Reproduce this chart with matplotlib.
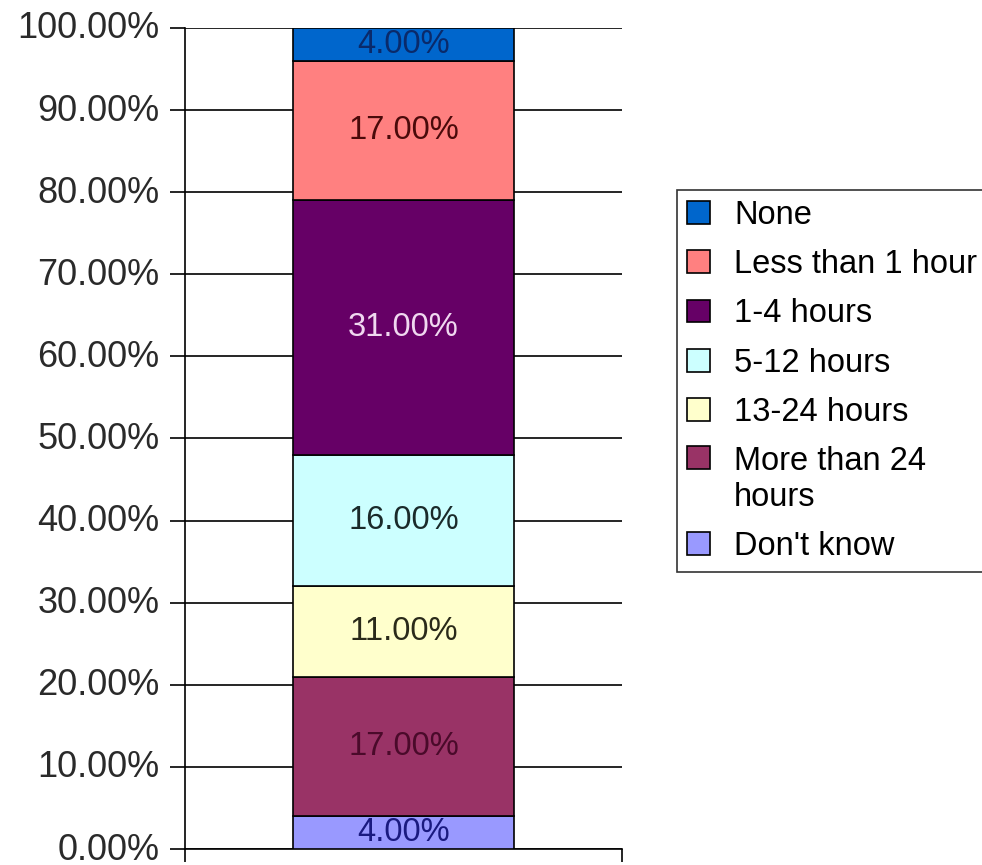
import matplotlib
matplotlib.use("Agg")
import matplotlib.pyplot as plt
import matplotlib.transforms as mtransforms
import numpy as np

categories = ["None", "Less than 1 hour", "1-4 hours", "5-12 hours",
              "13-24 hours", "More than 24\nhours", "Don't know"]
values = [4, 17, 31, 16, 11, 17, 4]
colors = ["#0066CC", "#FF8080", "#660066", "#CCFFFF", "#FFFFCC", "#993366", "#9999FF"]
label_colors = ["#0A2A6A", "#4A0A0A", "#F0D8F0", "#1A2A2A", "#2A2A1A", "#4A0A2A", "#1A1A80"]
yticks = np.arange(0, 101, 10)

plt.rcParams['font.family'] = ['Liberation Sans', 'DejaVu Sans']

W, H = 982, 865
fig = plt.figure(figsize=(W / 100, H / 100), dpi=100)
ax = fig.add_axes([185 / W, 1 - 849 / H, (622 - 185) / W, (849 - 28) / H])

# stack from bottom: last category at bottom
order = list(range(len(categories)))[::-1]
bottom = 0.0
handles = {}
for i in order:
    b = ax.bar(0, values[i], bottom=bottom, width=1.007, color=colors[i],
               edgecolor="black", linewidth=1.2, zorder=3)
    handles[i] = b
    ax.text(0, bottom + values[i] / 2, f"{values[i]:.2f}%", ha="center", va="center",
            fontsize=23.5, color=label_colors[i], zorder=4)
    bottom += values[i]

ax.set_xlim(-1, 1)
ax.set_ylim(0, 100)
ax.set_yticks(yticks)
ax.set_yticklabels([f"{t:.2f}%" for t in yticks], fontsize=26, color="#2a2a2a")
ax.yaxis.grid(True, color="black", linewidth=1.2, zorder=0)
ax.set_axisbelow(True)
ax.tick_params(axis="y", length=10.5, width=1.2, pad=8)
ax.set_xticks([-1, 1])
ax.set_xticklabels([])
ax.tick_params(axis="x", length=9.5, width=1.2)
for s in ["top", "right"]:
    ax.spines[s].set_visible(False)
for s in ["left", "bottom"]:
    ax.spines[s].set_linewidth(1.2)

offset = mtransforms.ScaledTranslation(0, 3 / 100, fig.dpi_scale_trans)
for lab in ax.get_yticklabels():
    lab.set_transform(lab.get_transform() + offset)

leg = fig.legend([handles[i] for i in range(len(categories))], categories,
                 loc="upper left", bbox_to_anchor=(677 / W, 1 - 190 / H),
                 fontsize=23.5, frameon=True, fancybox=False, edgecolor="black",
                 handlelength=0.7, handleheight=0.7, handletextpad=0.75,
                 borderpad=0.3, borderaxespad=0, labelspacing=0.56)
leg.get_frame().set_linewidth(1.2)
# align the handle of multi-line entries with the first line of text
try:
    for col in leg._legend_handle_box.get_children():
        for entry in col.get_children():
            kids = entry.get_children()
            if len(kids) == 2 and "\n" in kids[1].get_text():
                entry.align = "top"
except Exception:
    pass

fig.savefig("out.png", dpi=100)
